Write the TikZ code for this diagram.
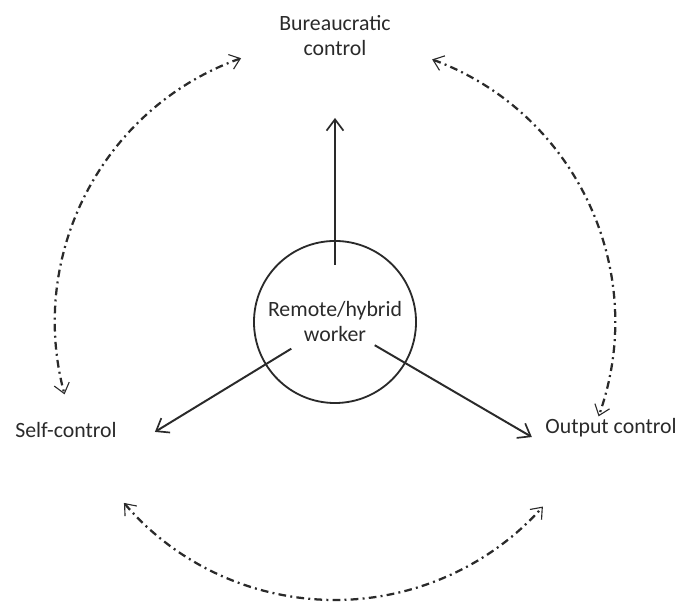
\documentclass[tikz,border=0pt]{standalone}
\usepackage{fontspec}
\setmainfont{Carlito}
\usepackage{tikz}
\usetikzlibrary{calc,arrows.meta}
\def\centerarc[#1](#2)(#3:#4:#5){\draw[#1] ($(#2)+({#5*cos(#3)},{#5*sin(#3)})$) arc (#3:#4:#5);}
\definecolor{inkgray}{HTML}{2A2A2A}
\tikzset{
	lbl/.style={text=inkgray, align=center, inner sep=0pt, font=\fontsize{15.5}{17.8}\selectfont},
	worker/.style={lbl, circle, draw=inkgray, line width=1.3pt, minimum size=4.05cm},
	solidarr/.style={draw=inkgray, line width=1.4pt, -{Straight Barb[length=8pt, width=12pt, line width=1.2pt]}},
	dasharr/.style={draw=inkgray, line width=1.6pt, dash pattern=on 5.5pt off 3pt on 1.4pt off 3pt,
		{Straight Barb[length=7pt, width=11pt, line width=0.8pt]}-{Straight Barb[length=7pt, width=11pt, line width=0.8pt]}},
}

\begin{document}
\begin{tikzpicture}[x=0.025cm, y=0.025cm]
			%%%%% START %%%%%
			
			\useasboundingbox (0, 0) rectangle (684, 603);
			
			\node[worker] (wk) at (335, 281) {Remote/hybrid\\worker};
			\node[lbl] (bc) at (335, 567) {Bureaucratic\\control};
			\node[lbl] (sc) at (66, 173) {Self-control};
			\node[lbl] (oc) at (611, 175) {Output control};
			
			\coordinate (bctip) at ($(wk)+(90:204)$);
			\coordinate (sctip) at ($(wk)+(211.4:211)$);
			\coordinate (octip) at ($(wk)+(-30.3:228)$);
			
			\draw[solidarr, shorten <=1.43cm] (wk.center) -- (bctip);
			\draw[solidarr, shorten <=1.28cm] (wk.center) -- (sctip);
			\draw[solidarr, shorten <=1.15cm] (wk.center) -- (octip);
			
			\centerarc[dasharr](wk)(109.6:195:280)
			\centerarc[dasharr](wk)(69.7:-19.7:280)
			\centerarc[dasharr](wk)(220.6:318.4:278)
			
			%%%%% END %%%%%
\end{tikzpicture}
\end{document}
